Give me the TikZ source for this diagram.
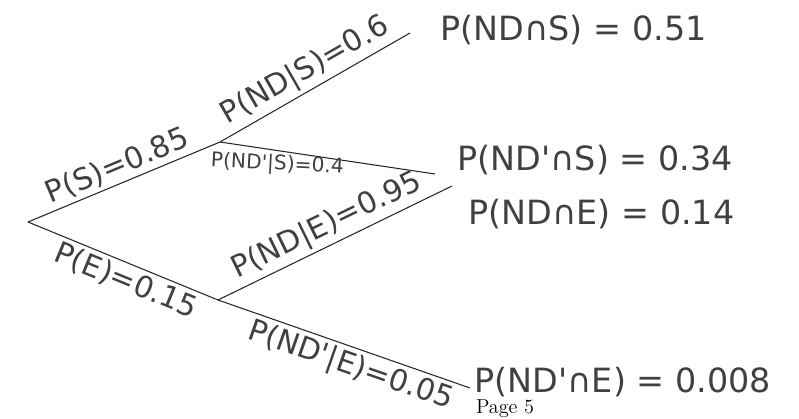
\documentclass[tikz,border=0pt]{standalone}
\usepackage{fontspec}
\newfontfamily\hand{DejaVu Sans}
\usetikzlibrary{positioning}

\begin{document}
\begin{tikzpicture}[x=0.02cm,y=-0.02cm,-,line width=0.6pt,black!85]
	\tikzstyle{lbl}=[font=\hand\fontsize{17}{19}\selectfont, inner sep=2pt, black!75]
	\tikzstyle{slbl}=[font=\hand\fontsize{11.5}{13}\selectfont, inner sep=2pt, black!75]
	\tikzstyle{res}=[font=\hand\fontsize{19}{21}\selectfont, inner sep=0pt, anchor=west, black!75]
	\useasboundingbox (0,0) rectangle (799,419);
	% branching points
	\coordinate (R) at (28,222);
	\coordinate (S) at (220,142);
	\coordinate (E) at (218,300);
	% line ends
	\coordinate (sa) at (410,33);
	\coordinate (sb) at (435,174);
	\coordinate (ea) at (452,186);
	\coordinate (eb) at (470,388);
	% results
	\node[res] (NS)  at (440,30)  {P(ND∩S) = 0.51};
	\node[res] (NpS) at (457,160) {P(ND'∩S) = 0.34};
	\node[res] (NE)  at (468,214) {P(ND∩E) = 0.14};
	\node[res] (NpE) at (474,382) {P(ND'∩E) = 0.008};
	\node[font=\fontsize{11.5}{13}\selectfont, black] (pg) at (505,409) {Page 5};
	\path
		(R) edge node[lbl, sloped, above] {P(S)=0.85} (S)
		(R) edge node[lbl, sloped, below, pos=0.55] {P(E)=0.15} (E)
		(S) edge node[lbl, sloped, above, pos=0.5] {P(ND|S)=0.6} (sa)
		(S) edge node[slbl, below, pos=0.27, rotate=-3] {P(ND'|S)=0.4} (sb)
		(E) edge node[lbl, sloped, above] {P(ND|E)=0.95} (ea)
		(E) edge node[lbl, sloped, below, pos=0.55] {P(ND'|E)=0.05} (eb);
\end{tikzpicture}
\end{document}
